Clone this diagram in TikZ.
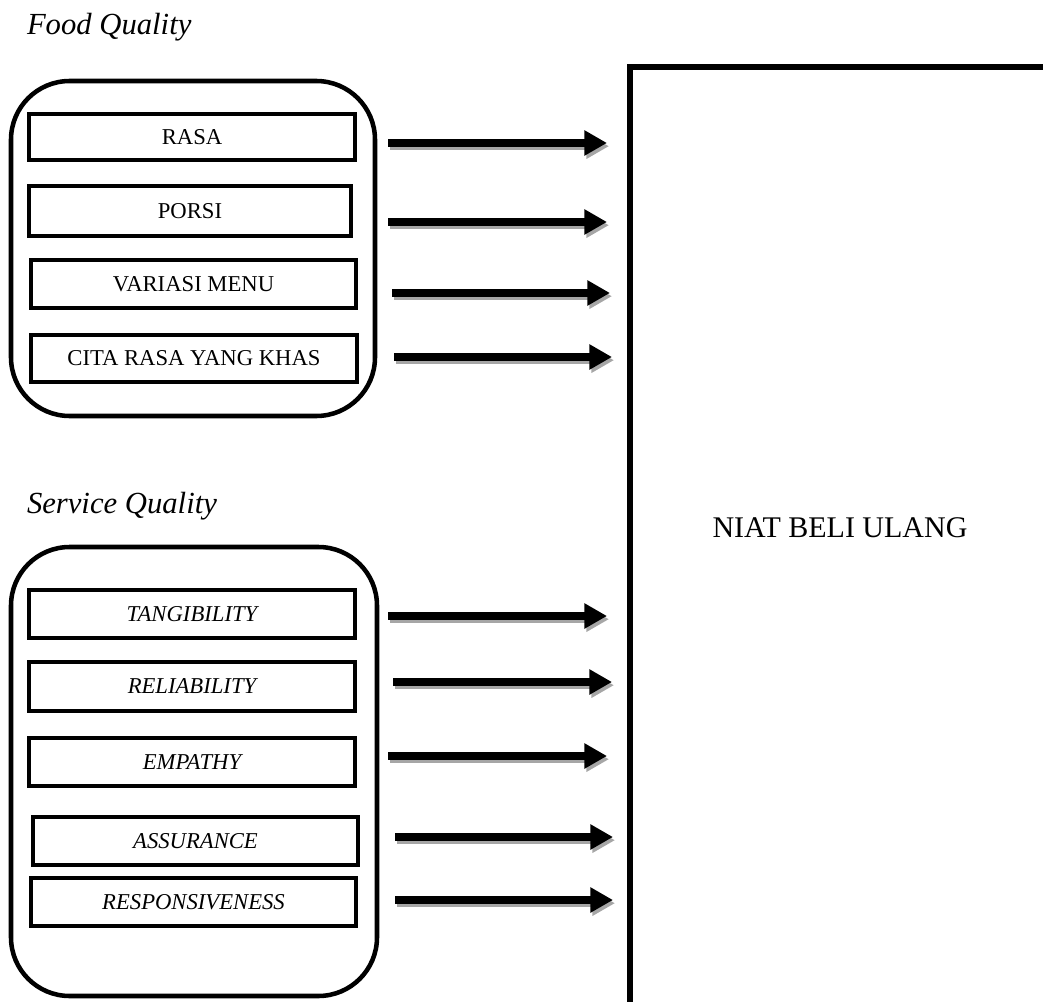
\documentclass[tikz,border=0pt]{standalone}
\usepackage{fontspec}
\setmainfont{Liberation Serif}
\usetikzlibrary{arrows.meta}
\begin{document}
\begin{tikzpicture}[x=0.75pt,y=-0.75pt,
  every node/.style={outer sep=0pt},
  ibox/.style={draw, line width=3.6pt, rectangle, inner sep=0pt,
    font=\fontsize{17}{20}\selectfont},
  grp/.style={draw, line width=3.4pt, rectangle, rounded corners=44pt, inner sep=0pt},
  arr/.style={line width=6pt, -{Triangle[length=17pt,width=18pt]}},
  arrshadow/.style={arr, draw=black!35, transform canvas={xshift=1.5pt,yshift=-2.4pt}},
  ttl/.style={font=\fontsize{23}{27}\selectfont\itshape, anchor=base west, inner sep=0pt}
]
\clip (0,0) rectangle (1043,1002);

% group titles
\node[ttl] (fqt) at (27,35) {Food Quality};
\node[ttl] (sqt) at (27,513) {Service Quality};

% group frames
\node[grp, minimum width={364*0.75pt}, minimum height={335*0.75pt}] (fq) at (193,248.5) {};
\node[grp, minimum width={366*0.75pt}, minimum height={449*0.75pt}] (sq) at (194,771.5) {};

% food quality indicators
\node[ibox, minimum width={326*0.75pt}, minimum height={46*0.75pt}] (rasa) at (192,137) {RASA};
\node[ibox, minimum width={322*0.75pt}, minimum height={50*0.75pt}] (porsi) at (190,211) {PORSI};
\node[ibox, minimum width={325*0.75pt}, minimum height={48*0.75pt}] (variasi) at (193.5,284) {VARIASI MENU};
\node[ibox, minimum width={326*0.75pt}, minimum height={47*0.75pt}] (cita) at (194,358.5) {CITA RASA YANG KHAS};

% service quality indicators
\node[ibox, minimum width={326*0.75pt}, minimum height={48*0.75pt}] (tang) at (192,614) {\itshape TANGIBILITY};
\node[ibox, minimum width={326*0.75pt}, minimum height={49*0.75pt}] (reli) at (192,686.5) {\itshape RELIABILITY};
\node[ibox, minimum width={326*0.75pt}, minimum height={48*0.75pt}] (emp) at (192,762) {\itshape EMPATHY};
\node[ibox, minimum width={325*0.75pt}, minimum height={48*0.75pt}] (assu) at (195.5,841) {\itshape ASSURANCE};
\node[ibox, minimum width={325*0.75pt}, minimum height={48*0.75pt}] (resp) at (193.5,902) {\itshape RESPONSIVENESS};

% dependent variable
\node[draw, line width=3.8pt, rectangle, inner sep=0pt, anchor=north west,
  minimum width={430*0.75pt}, minimum height={960*0.75pt}] (niat) at (630,67) {};
\node[font=\fontsize{22.5}{27}\selectfont, anchor=base, inner sep=0pt] (niatlbl) at (840,537) {NIAT BELI ULANG};

% arrows with drop shadow
\foreach \i/\xa/\xb/\y in {1/388/607/143, 2/388/607/222, 3/392/610/293, 4/394/612/357,
    5/388/607/616, 6/393/612/682, 7/388/607/756, 8/395/613/837, 9/395/613/900}{
  \coordinate (s\i) at (\xa,\y);
  \coordinate (e\i) at (\xb,\y);
  \draw[arrshadow] (s\i) -- (e\i);
  \draw[arr] (s\i) -- (e\i);
}
\end{tikzpicture}
\end{document}
